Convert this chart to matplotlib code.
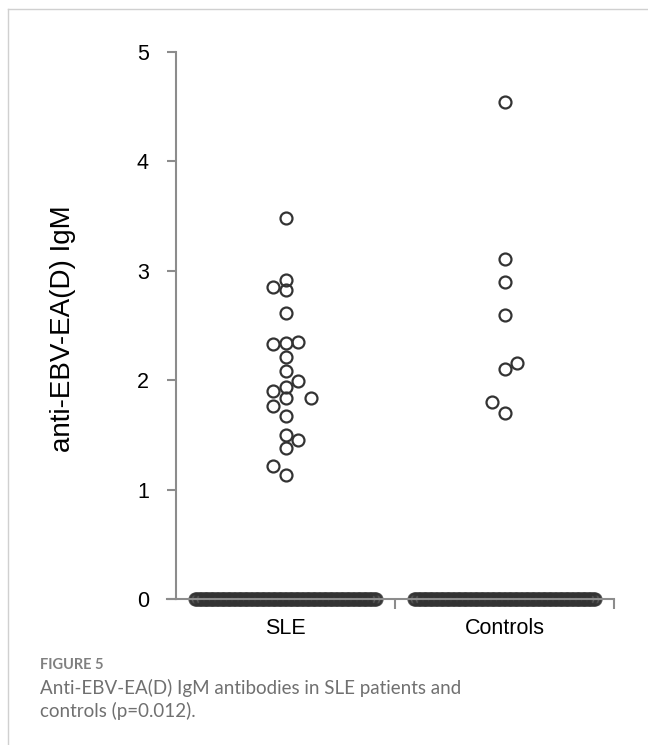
import matplotlib.pyplot as plt
from matplotlib.lines import Line2D
import numpy as np

plt.rcParams["font.family"] = ["Liberation Sans", "DejaVu Sans"]

categories = ["SLE", "Controls"]

# positive readings (IgM index) per group
sle_values = [3.48, 2.92, 2.855, 2.82, 2.61, 2.35, 2.34, 2.33, 2.215, 2.08, 1.99,
              1.935, 1.90, 1.84, 1.84, 1.76, 1.67, 1.50, 1.45, 1.38, 1.22, 1.13]
control_values = [4.54, 3.105, 2.90, 2.60, 2.155, 2.10, 1.80, 1.70]

# negative readings (index 0) per group
sle_zero_count = 150
control_zero_count = 150

# column slots used to keep neighbouring circles apart
sle_slots = [0, 0, -1, 0, 0, 1, 0, -1, 0, 0, 1, 0, -1, 0, 2, -1, 0, 0, 1, 0, -1, 0]
control_slots = [0, 0, 0, 0, 1, 0, -1, 0]

SLOT_W = 0.059
ZERO_HALF = 0.413
GRAY = "#8c8c8c"
INK = "#333333"

fig = plt.figure(figsize=(6.48, 7.45), dpi=100)
ax = fig.add_axes([176 / 648, 146 / 745, 438 / 648, 547 / 745])

groups = [(sle_values, sle_slots, sle_zero_count),
          (control_values, control_slots, control_zero_count)]
for i, (vals, slots, n_zero) in enumerate(groups):
    center = i + 0.5
    xs = center + np.array(slots) * SLOT_W
    ax.plot(xs, vals, "o", ms=8.6, mfc="none", mec=INK, mew=1.6,
            clip_on=False, zorder=2)
    zx = np.linspace(center - ZERO_HALF, center + ZERO_HALF, n_zero)
    ax.plot(zx, np.zeros(n_zero), "o", ms=8.6, mfc="none", mec=INK, mew=1.6,
            clip_on=False, zorder=2, alpha=0.8)

ax.set_xlim(0, 2)
ax.set_ylim(0, 5)

for side in ("top", "right"):
    ax.spines[side].set_visible(False)
for side in ("left", "bottom"):
    ax.spines[side].set_color(GRAY)
    ax.spines[side].set_linewidth(1.5)
    ax.spines[side].set_zorder(3)

ax.set_yticks(range(6))
ax.tick_params(axis="y", length=6.5, width=1.5, color=GRAY, pad=13,
               labelsize=15.5, labelcolor="black")
ax.set_xticks([1, 2])
ax.set_xticklabels([])
ax.tick_params(axis="x", which="major", length=7, width=1.5, color=GRAY)
ax.set_xticks([0.5, 1.5], minor=True)
ax.set_xticklabels(categories, minor=True)
ax.tick_params(axis="x", which="minor", length=0, pad=14, labelsize=15.5,
               labelcolor="black")
# extend the baseline slightly past the y axis
ax.plot([-0.041, 0], [0, 0], color=GRAY, lw=1.5, clip_on=False, zorder=3)

fig.text(63 / 648, 1 - 329 / 745, "anti-EBV-EA(D) IgM", rotation=90,
         ha="center", va="center", fontsize=20)

# page frame
fig.add_artist(Line2D([8 / 648, 1], [1 - 9 / 745] * 2, color="#d0d0d0", lw=1))
fig.add_artist(Line2D([8 / 648] * 2, [0, 1 - 9 / 745], color="#d0d0d0", lw=1))

fig.text(40 / 648, 1 - 669 / 745, "FIGURE 5", family="Lato",
         weight="bold", fontsize=10.5, color="#808080", va="baseline")
fig.text(40 / 648, 1 - 694 / 745,
         "Anti-EBV-EA(D) IgM antibodies in SLE patients and",
         family="Lato", fontsize=13.5, color="#707070", va="baseline")
fig.text(40 / 648, 1 - 717 / 745, "controls (p=0.012).",
         family="Lato", fontsize=13.5, color="#707070", va="baseline")

fig.savefig("out.png", dpi=100)
